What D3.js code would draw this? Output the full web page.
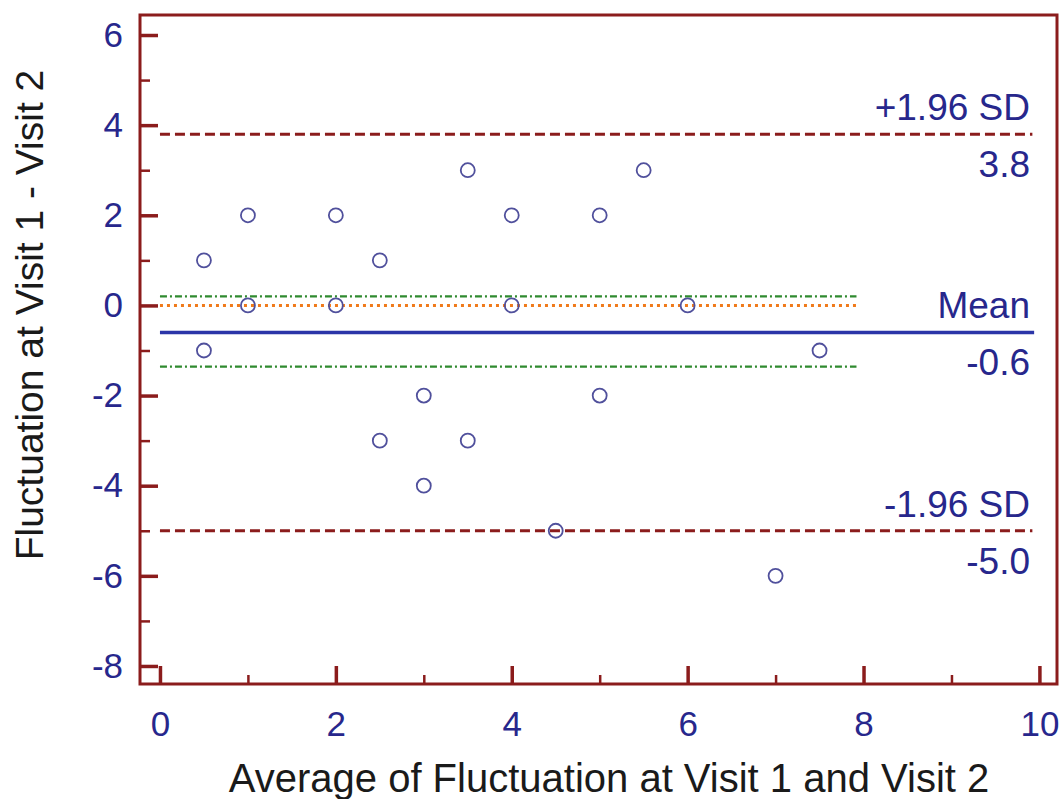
<!DOCTYPE html>
<html>
<head>
<meta charset="utf-8">
<script src="https://cdn.jsdelivr.net/npm/d3@7"></script>
<style>
  body { margin: 0; background: #fff; }
  text { font-family: "Liberation Sans", Arial, sans-serif; }
</style>
</head>
<body>
<svg id="chart" width="1062" height="799"></svg>
<script>
// Bland-Altman data: average (x) and difference (y)
const averages = [0.5, 0.5, 1, 1, 2, 2, 2.5, 2.5, 3, 3, 3.5, 3.5, 4, 4, 4.5, 5, 5, 5.5, 6, 7, 7.5];
const differences = [1, -1, 2, 0, 2, 0, 1, -3, -2, -4, 3, -3, 2, 0, -5, 2, -2, 3, 0, -6, -1];

const meanDiff = -0.6;
const upperSD = 3.8;
const lowerSD = -5.0;
const ciMean = [0.2, -1.36];   // confidence interval of mean
const lineEndX = 9.92;
const ciEndX = 7.92;

const xMajor = [0, 2, 4, 6, 8, 10];
const xMinor = [1, 3, 5, 7, 9];
const yMajor = [6, 4, 2, 0, -2, -4, -6, -8];
const yMinor = [5, 3, 1, -1, -3, -5, -7];

const frameColor = '#8b1c1c';
const labelBlue = '#27278c';

const svg = d3.select('#chart');

const plotLeft = 140, plotRight = 1057, plotTop = 15, plotBottom = 684;

const x = d3.scaleLinear().domain([-0.227, 10.2]).range([plotLeft, plotRight]);
const y = d3.scaleLinear().domain([-8.4, 6.444]).range([plotBottom, plotTop]);

// plain hyphen for negatives, like the original
const fmt = d => String(d);

// Axes (ticks pointing inward)
function styleAxis(g, size) {
  g.select('.domain').remove();
  g.selectAll('.tick line').attr('stroke', frameColor).attr('stroke-width', size);
  g.selectAll('.tick text')
    .attr('fill', labelBlue)
    .style('font-size', '35px');
}

svg.append('g')
  .attr('transform', `translate(${plotLeft},0)`)
  .call(d3.axisLeft(y).tickValues(yMinor).tickSize(-10).tickFormat(''))
  .call(g => styleAxis(g, 2.5));

svg.append('g')
  .attr('transform', `translate(${plotLeft},0)`)
  .call(d3.axisLeft(y).tickValues(yMajor).tickSize(-18).tickSizeOuter(0).tickPadding(17).tickFormat(fmt))
  .call(g => styleAxis(g, 3.5));

svg.append('g')
  .attr('transform', `translate(0,${plotBottom})`)
  .call(d3.axisBottom(x).tickValues(xMinor).tickSize(-9).tickFormat(''))
  .call(g => styleAxis(g, 2.5));

svg.append('g')
  .attr('transform', `translate(0,${plotBottom})`)
  .call(d3.axisBottom(x).tickValues(xMajor).tickSize(-18).tickSizeOuter(0).tickPadding(27).tickFormat(fmt))
  .call(g => styleAxis(g, 3.5));

// Frame
svg.append('rect')
  .attr('x', plotLeft)
  .attr('y', plotTop)
  .attr('width', plotRight - plotLeft)
  .attr('height', plotBottom - plotTop)
  .attr('fill', 'none')
  .attr('stroke', frameColor)
  .attr('stroke-width', 3);

// Reference lines
function hline(val, x2, color, width, dash) {
  svg.append('line')
    .attr('x1', x(0)).attr('x2', x(x2))
    .attr('y1', y(val)).attr('y2', y(val))
    .attr('stroke', color)
    .attr('stroke-width', width)
    .attr('stroke-dasharray', dash);
}

hline(upperSD, lineEndX, frameColor, 3, '10,5');
hline(lowerSD, lineEndX, frameColor, 3, '10,5');
hline(ciMean[0], ciEndX, '#2f8a2f', 2.2, '7,3,2,3');
hline(ciMean[1], ciEndX, '#2f8a2f', 2.2, '7,3,2,3');
hline(0, ciEndX, '#f07a1a', 3, '3,4');
hline(meanDiff, lineEndX + 0.02, '#2b35a8', 3.5, null);

// Points
svg.append('g')
  .selectAll('circle')
  .data(averages.map((a, i) => [a, differences[i]]))
  .join('circle')
  .attr('cx', d => x(d[0]))
  .attr('cy', d => y(d[1]))
  .attr('r', 7)
  .attr('fill', 'none')
  .attr('stroke', '#50509c')
  .attr('stroke-width', 1.8);

// Line labels
const lineLabels = [
  { val: upperSD, above: '+1.96 SD', below: upperSD.toFixed(1) },
  { val: meanDiff, above: 'Mean', below: meanDiff.toFixed(1) },
  { val: lowerSD, above: '-1.96 SD', below: lowerSD.toFixed(1) }
];

lineLabels.forEach(l => {
  svg.append('text')
    .attr('x', 1030)
    .attr('y', y(l.val) - 14)
    .attr('text-anchor', 'end')
    .attr('fill', labelBlue)
    .style('font-size', '37px')
    .text(l.above);
  svg.append('text')
    .attr('x', 1030)
    .attr('y', y(l.val) + 43)
    .attr('text-anchor', 'end')
    .attr('fill', labelBlue)
    .style('font-size', '37px')
    .text(l.below);
});

// Axis titles
svg.append('text')
  .attr('x', 609)
  .attr('y', 792)
  .attr('text-anchor', 'middle')
  .attr('fill', '#1a1a1a')
  .style('font-size', '40px')
  .text('Average of Fluctuation at Visit 1 and Visit 2');

svg.append('text')
  .attr('transform', 'translate(43,315) rotate(-90)')
  .attr('text-anchor', 'middle')
  .attr('fill', '#1a1a1a')
  .style('font-size', '39px')
  .text('Fluctuation at Visit 1 - Visit 2');
</script>
</body>
</html>
